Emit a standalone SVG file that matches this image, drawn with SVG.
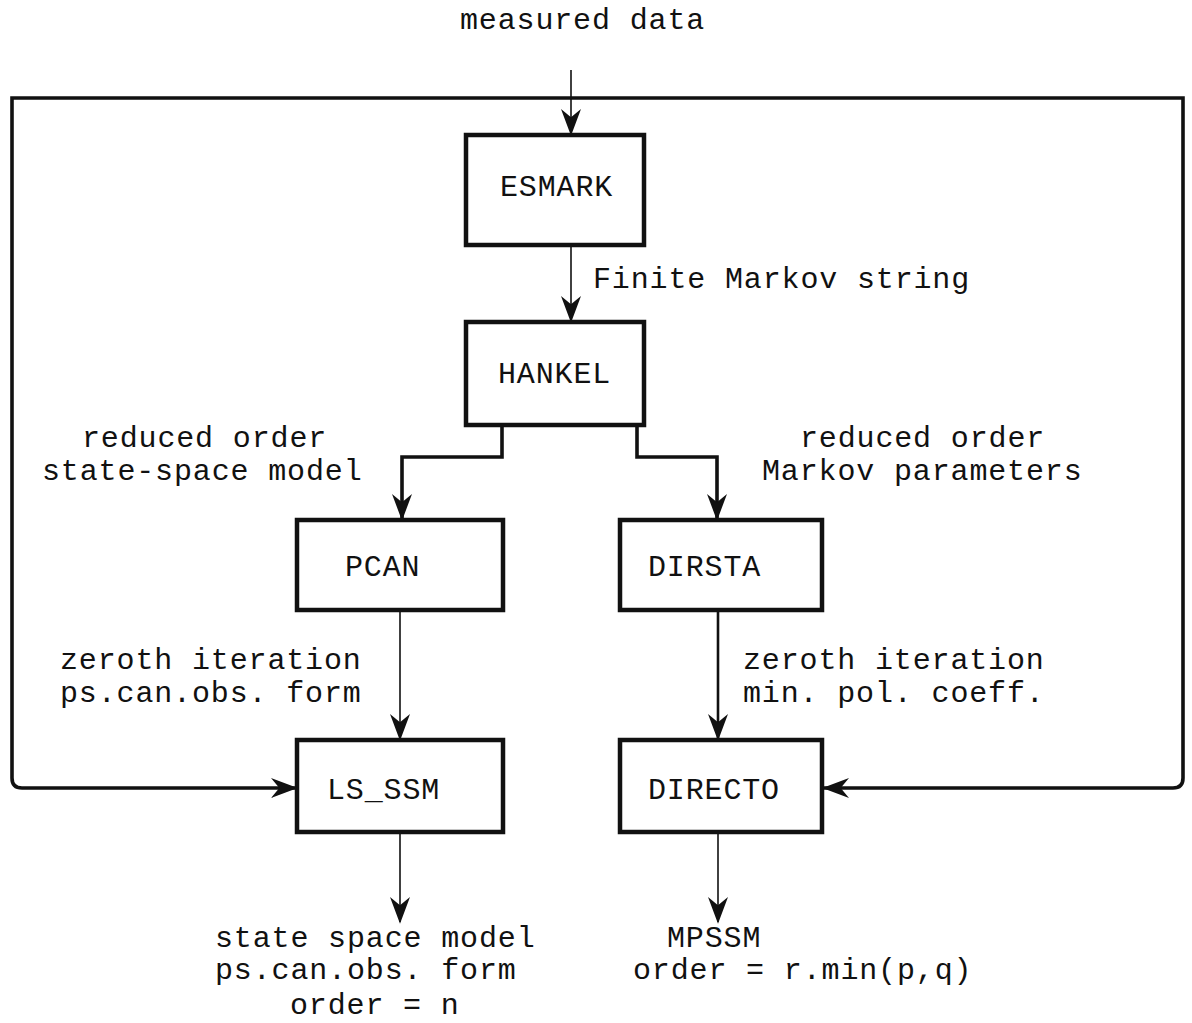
<svg xmlns="http://www.w3.org/2000/svg" width="1192" height="1023" viewBox="0 0 1192 1023">
<style>
text{font-family:"Liberation Mono","DejaVu Sans Mono",monospace;font-size:30px;letter-spacing:0.85px;fill:#111}
.box{fill:#fff;stroke:#111;stroke-width:4.5}
.thin{fill:none;stroke:#111;stroke-width:1.6}
.mid{fill:none;stroke:#111;stroke-width:2.6}
.thick{fill:none;stroke:#111;stroke-width:3.6}
</style>
<defs>
<marker id="ah" markerUnits="userSpaceOnUse" markerWidth="30" markerHeight="30" viewBox="-16 -8 18 16" refX="0" refY="0" orient="auto">
<path d="M1,0 L-15,-6 L-10,0 L-15,6 Z" fill="#111"/>
</marker>
</defs>
<g id="connectors">
<path class="thin" d="M571,70 V134" marker-end="url(#ah)"/>
<path class="thick" d="M571,98 H12 V778 Q12,788 22,788 H296" marker-end="url(#ah)"/>
<path class="thick" d="M571,98 H1183 V778 Q1183,788 1173,788 H824" marker-end="url(#ah)"/>
<path class="thin" d="M571,245 V321" marker-end="url(#ah)"/>
<path class="thick" d="M502,425 V457 H402 V519" marker-end="url(#ah)"/>
<path class="thick" d="M637,425 V457 H717 V519" marker-end="url(#ah)"/>
<path class="thin" d="M400,610 V739" marker-end="url(#ah)"/>
<path class="mid" d="M718,610 V739" marker-end="url(#ah)"/>
<path class="thin" d="M400,832 V922" marker-end="url(#ah)"/>
<path class="thin" d="M718,832 V922" marker-end="url(#ah)"/>
</g>
<g id="labels">
<text x="460" y="29">measured data</text>
<text x="593" y="288">Finite Markov string</text>
<text x="82" y="447">reduced order</text>
<text x="42" y="480">state-space model</text>
<text x="800" y="447">reduced order</text>
<text x="762" y="480">Markov parameters</text>
<text x="60" y="669">zeroth iteration</text>
<text x="60" y="702">ps.can.obs. form</text>
<text x="743" y="669">zeroth iteration</text>
<text x="743" y="702">min. pol. coeff.</text>
<text x="215" y="947">state space model</text>
<text x="215" y="979">ps.can.obs. form</text>
<text x="290" y="1014">order = n</text>
<text x="667" y="947">MPSSM</text>
<text x="633" y="979">order = r.min(p,q)</text>
</g>
<g id="esmark"><rect class="box" x="466" y="135" width="178" height="110"/><text x="500" y="196">ESMARK</text></g>
<g id="hankel"><rect class="box" x="466" y="322" width="178" height="103"/><text x="498" y="383">HANKEL</text></g>
<g id="pcan"><rect class="box" x="297" y="520" width="206" height="90"/><text x="345" y="576">PCAN</text></g>
<g id="dirsta"><rect class="box" x="620" y="520" width="202" height="90"/><text x="648" y="576">DIRSTA</text></g>
<g id="ls_ssm"><rect class="box" x="297" y="740" width="206" height="92"/><text x="327" y="799">LS_SSM</text></g>
<g id="directo"><rect class="box" x="620" y="740" width="202" height="92"/><text x="648" y="799">DIRECTO</text></g>
</svg>
